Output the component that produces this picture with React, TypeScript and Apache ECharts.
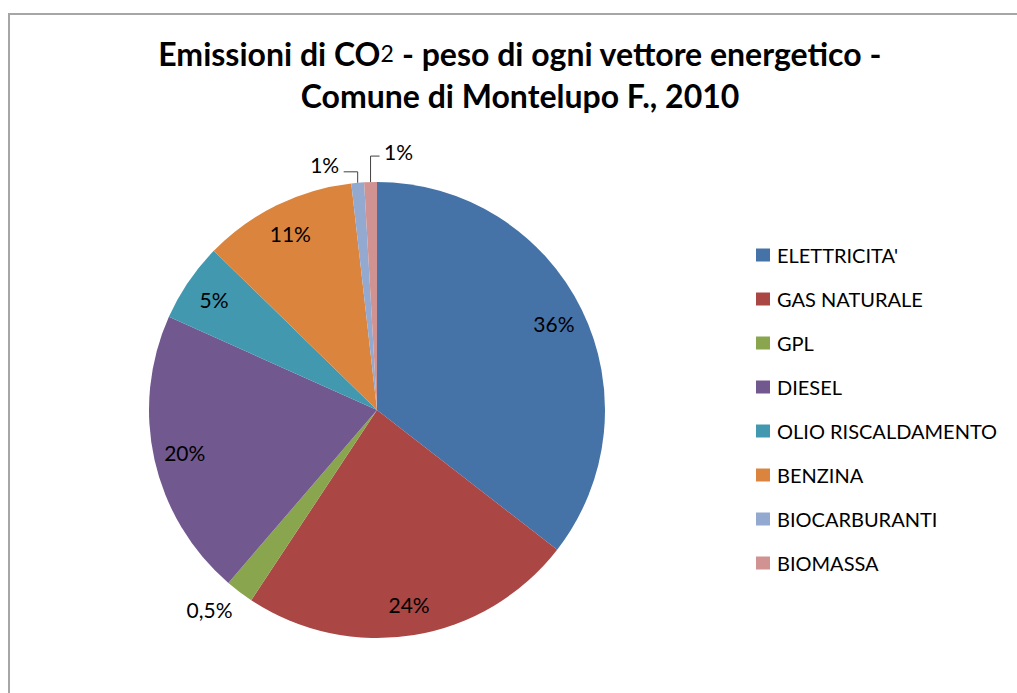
import React, { useEffect, useRef } from "react";
import * as echarts from "echarts";

const categories = ["ELETTRICITA'", "GAS NATURALE", "GPL", "DIESEL", "OLIO RISCALDAMENTO", "BENZINA", "BIOCARBURANTI", "BIOMASSA"];
const shares = [35.5, 23.8, 2.0, 20.4, 5.6, 10.9, 0.9, 0.9];
const labelTexts = ["36%", "24%", "0,5%", "20%", "5%", "11%", "1%", "1%"];
const insideLabel = [true, true, false, true, true, true, false, false];
const colors = ["#4572A7", "#AA4643", "#89A54E", "#71588F", "#4198AF", "#DB843D", "#93A9CF", "#D19392"];

const FONT = "Lato, 'Noto Sans', sans-serif";
const CENTER = [377, 410];
const RADIUS = 228;

export default function App() {
  const ref = useRef<HTMLDivElement>(null);
  useEffect(() => {
    if (!ref.current) return;
    document.body.style.margin = "0";
    document.body.style.overflow = "hidden";
    const chart = echarts.init(ref.current, null, { renderer: "svg" });
    const mainData = categories.map((name, i) => ({
      name,
      value: shares[i],
      itemStyle: { color: colors[i] },
      label: { show: !insideLabel[i] },
      labelLine: { show: !insideLabel[i] },
    }));
    const overlayData = categories.map((name, i) => ({
      name,
      value: shares[i],
      label: { show: insideLabel[i] },
    }));
    chart.setOption({
      animation: false,
      backgroundColor: "#ffffff",
      color: colors,
      title: {
        left: 515,
        top: 27,
        textAlign: "center",
        text: "{b|Emissioni di CO}{s|2}{b| - peso di ogni vettore energetico -}\n{b|Comune di Montelupo F., 2010}",
        textStyle: {
          rich: {
            b: { fontFamily: FONT, fontSize: 32, fontWeight: "bold", color: "#000", lineHeight: 42 },
            s: { fontFamily: FONT, fontSize: 23, fontWeight: "normal", color: "#000", lineHeight: 42 },
          },
        },
      },
      legend: {
        orient: "vertical",
        left: 751,
        top: 239,
        icon: "rect",
        itemWidth: 14,
        itemHeight: 13,
        itemGap: 22,
        selectedMode: false,
        data: categories.map((name, i) => ({ name, itemStyle: { color: colors[i] } })),
        textStyle: { fontFamily: FONT, fontSize: 20, color: "#000", lineHeight: 22, padding: [0, 0, 0, 2] },
      },
      graphic: [
        {
          type: "rect",
          shape: { x: 9, y: 14, width: 1100, height: 800 },
          style: { fill: "none", stroke: "#a6a6a6", lineWidth: 2 },
          silent: true,
        },
      ],
      series: [
        {
          type: "pie",
          center: CENTER,
          radius: RADIUS,
          startAngle: 90,
          clockwise: true,
          avoidLabelOverlap: false,
          silent: true,
          itemStyle: { borderWidth: 0 },
          emphasis: { disabled: true },
          label: {
            show: true,
            position: "outside",
            formatter: (p: any) => labelTexts[p.dataIndex],
            fontFamily: FONT,
            fontSize: 21,
            color: "#000",
          },
          labelLine: { show: true, length: 10, length2: 10, smooth: false, lineStyle: { color: "#404040", width: 1 } },
          labelLayout: (params: any) => {
            const i = params.dataIndex;
            const pts = params.labelLinePoints;
            if (!pts || !pts.length) return {};
            const p0 = pts[0];
            if (i === 2) {
              return { x: p0[0] - 30, y: p0[1] + 18, align: "center", verticalAlign: "middle", labelLinePoints: [p0, p0, p0] };
            }
            if (i === 6) {
              return {
                x: p0[0] - 33,
                y: p0[1] - 18,
                align: "center",
                verticalAlign: "middle",
                labelLinePoints: [p0, [p0[0], p0[1] - 11], [p0[0] - 14, p0[1] - 11]],
              };
            }
            if (i === 7) {
              return {
                x: p0[0] + 28,
                y: p0[1] - 31,
                align: "center",
                verticalAlign: "middle",
                labelLinePoints: [p0, [p0[0], p0[1] - 26], [p0[0] + 9, p0[1] - 26]],
              };
            }
            return {};
          },
          data: mainData,
        },
        {
          type: "pie",
          center: CENTER,
          radius: [160, RADIUS],
          startAngle: 90,
          clockwise: true,
          avoidLabelOverlap: false,
          silent: true,
          legendHoverLink: false,
          itemStyle: { color: "rgba(0,0,0,0)", borderWidth: 0 },
          emphasis: { disabled: true },
          label: {
            show: true,
            position: "inside",
            rotate: 0,
            formatter: (p: any) => labelTexts[p.dataIndex],
            fontFamily: FONT,
            fontSize: 21,
            color: "#000",
          },
          labelLine: { show: false },
          data: overlayData,
        },
      ],
    });
    return () => chart.dispose();
  }, []);
  return <div ref={ref} style={{ width: 1017, height: 693 }} />;
}
